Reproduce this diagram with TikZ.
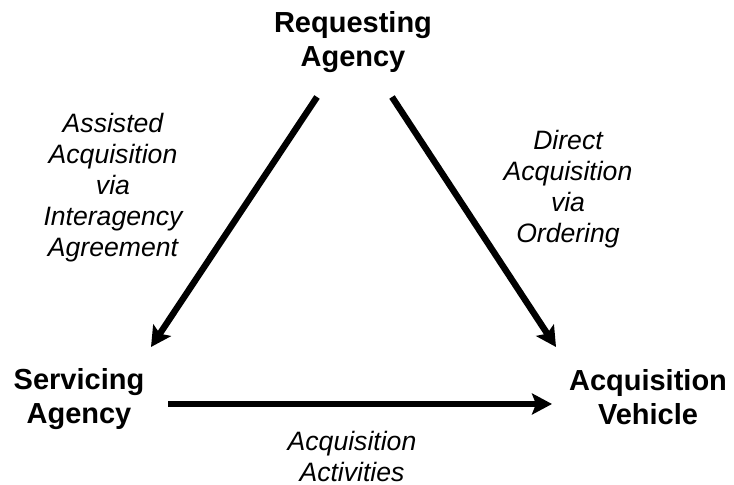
\documentclass[tikz,border=0pt]{standalone}
\usepackage{fontspec}
\setmainfont{Liberation Sans}
\usetikzlibrary{arrows.meta}
\tikzset{
	every node/.style={align=center,inner sep=0pt},
	agency/.style={font=\bfseries\fontsize{14.5}{17}\selectfont},
	route/.style={font=\itshape\fontsize{13.3}{15.5}\selectfont},
	flow/.style={line width=3.2pt,-{Stealth[length=10pt,width=10.5pt,inset=2pt]}},
}

\begin{document}
\begin{tikzpicture}[x=0.5pt,y=-0.5pt]
	\useasboundingbox (0,0) rectangle (734,485);

	%agencies.....................
	\node [agency] (req) at (353,42) {Requesting\\Agency};
	\node [agency] (serv) at (79,399) {Servicing\\Agency};
	\node [agency] (veh) at (648,397) {Acquisition\\Vehicle};

	% arrow ends...................
	\coordinate (reqL) at (317,97);
	\coordinate (reqR) at (392,97);
	\coordinate (servT) at (151,347);
	\coordinate (servR) at (168,404);
	\coordinate (vehT) at (556,347);
	\coordinate (vehL) at (552,404);

	% arrows.......................
	\draw [flow] (reqL) to (servT);
	\draw [flow] (reqR) to (vehT);
	\draw [flow] (servR) to (vehL);

	% labels..............................
	\node [route] (assisted) at (113,188) {Assisted\\Acquisition\\via\\Interagency\\Agreement};
	\node [route] (direct) at (568,189) {Direct\\Acquisition\\via\\Ordering};
	\node [route] (activities) at (352,456) {Acquisition\\Activities};
\end{tikzpicture}
\end{document}
